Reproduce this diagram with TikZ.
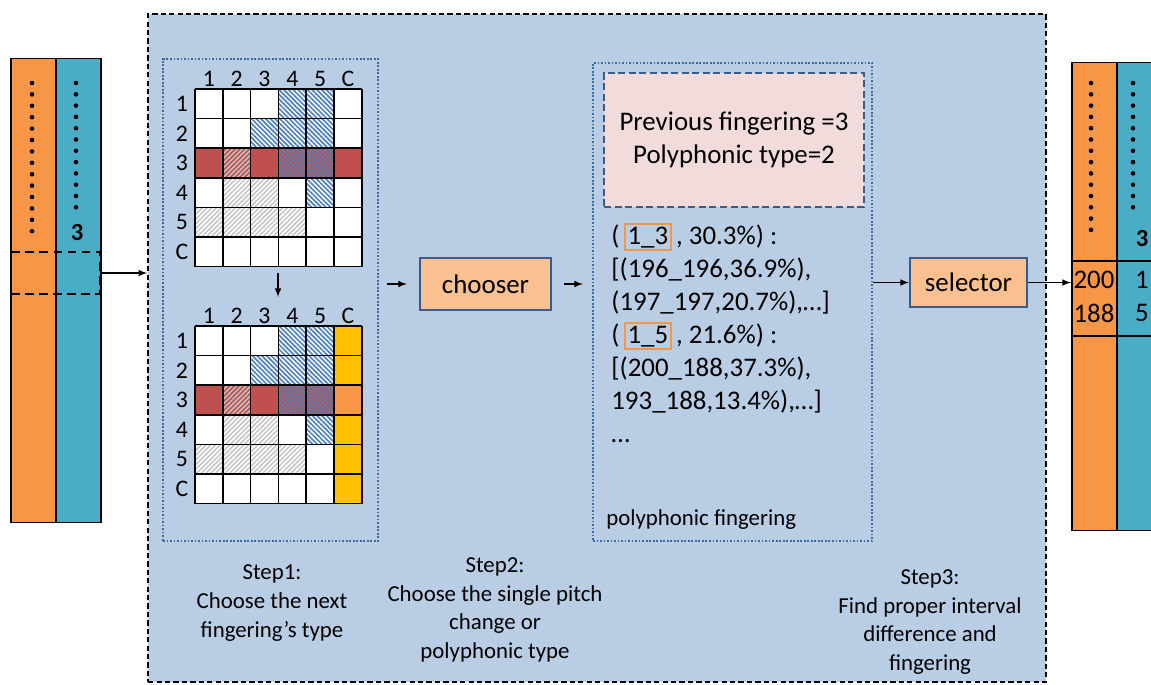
\documentclass[tikz,border=0pt]{standalone}
\usepackage{fontspec}
\setmainfont{Carlito}
\usetikzlibrary{arrows,calc,positioning,patterns.meta}

\definecolor{framefill}{HTML}{B9CDE5}
\definecolor{dotblue}{HTML}{3F6A9F}
\definecolor{boxblue}{HTML}{385D8A}
\definecolor{peach}{HTML}{FAC090}
\definecolor{notepink}{HTML}{F2DCDB}
\definecolor{colorange}{HTML}{F79646}
\definecolor{colteal}{HTML}{4BACC6}
\definecolor{rowred}{HTML}{C0504D}
\definecolor{chosen}{HTML}{FFC000}
\definecolor{hatchblue}{HTML}{4F81BD}
\definecolor{hatchgray}{HTML}{C4C4C4}

\newcommand{\pick}[1]{{\setlength{\fboxsep}{1pt}\setlength{\fboxrule}{1pt}\fcolorbox{colorange}{framefill}{#1}}}

\begin{document}
\begin{tikzpicture}[x=0.02cm, y=-0.02cm, >=latex,
  frame/.style={draw, fill=framefill, line width=1.1pt, dash pattern=on 3pt off 1.8pt},
  stepbox/.style={draw=dotblue, line width=1.2pt, dash pattern=on 1pt off 1pt},
  unit/.style={draw=boxblue, fill=peach, line width=1.2pt, font=\fontsize{15.3}{18}\selectfont},
  column/.style={draw, line width=0.6pt, minimum width=0.9cm, inner sep=0},
  numtext/.style={font=\fontsize{15.3}{18}\selectfont, inner sep=0},
  gridlabel/.style={font=\fontsize{13.5}{15}\selectfont, inner sep=0},
  steplabel/.style={align=center, font=\fontsize{13}{16.4}\selectfont, inner sep=0},
  bluehatch/.style={pattern={Lines[angle=-45,distance=1.9pt,line width=0.95pt]}, pattern color=hatchblue},
  grayhatch/.style={pattern={Lines[angle=45,distance=1.9pt,line width=0.85pt]}, pattern color=hatchgray},
  gridline/.style={line width=0.9pt},
  flow/.style={->, line width=0.7pt}]

  \clip (0,0) rectangle (1151,684);

  % main frame and its parts
  \node[frame, minimum width=17.96cm, minimum height=13.36cm] (frame) at (597,348) {};
  \node[stepbox, minimum width=4.3cm, minimum height=9.64cm] (step1box) at (270.5,300) {};
  \node[stepbox, minimum width=5.58cm, minimum height=9.56cm] (polybox) at (732.5,302) {};

  % fingering type tables, before and after
  \foreach \g/\dy in {A/0, B/237} {
    \begin{scope}[shift={(0,\dy)}]
      \fill[white] (195,89) rectangle (361.8,266.6);
      \fill[rowred] (195,148.2) rectangle (361.8,177.8);
      \ifnum\dy>0
        \fill[chosen] (334,89) rectangle (361.8,266.6);
        \fill[colorange] (334,148.2) rectangle (361.8,177.8);
      \fi
      \foreach \r/\c in {1/4,1/5,2/3,2/4,2/5,3/4,3/5,4/5}
        \fill[bluehatch] ({195+27.8*(\c-1)},{89+29.6*(\r-1)}) rectangle ++(27.8,29.6);
      \foreach \r/\c in {3/2,4/2,4/3,5/1,5/2,5/3,5/4}
        \fill[grayhatch] ({195+27.8*(\c-1)},{89+29.6*(\r-1)}) rectangle ++(27.8,29.6);
      \foreach \i in {0,...,6} {
        \draw[gridline] ({195+27.8*\i},89) -- ({195+27.8*\i},266.6);
        \draw[gridline] (195,{89+29.6*\i}) -- (361.8,{89+29.6*\i});
      }
      \foreach \t [count=\i] in {1,2,3,4,5,C} {
        \node[gridlabel] (\g-col\i) at ({195+27.8*(\i-0.5)},79) {\t};
        \node[gridlabel] (\g-row\i) at (182,{89+29.6*(\i-0.5)}) {\t};
      }
    \end{scope}
  }
  \coordinate (A-out) at (278,273);
  \coordinate (B-in) at (278,297);
  \draw[flow] (A-out) -- (B-in);

  % chooser and selector
  \node[unit, minimum width=2.62cm, minimum height=1.04cm] (chooser) at (485.5,284) {chooser};
  \node[unit, minimum width=2.34cm, minimum height=0.98cm] (selector) at (968.5,282.5) {selector};

  % polyphonic fingering table
  \node[draw=boxblue, fill=notepink, line width=1.2pt, dash pattern=on 4pt off 2pt,
        minimum width=5.2cm, minimum height=2.68cm, align=center,
        font=\fontsize{15.3}{18.7}\selectfont] (prev) at (734,140)
        {Previous fingering =3\\Polyphonic type=2};
  \foreach \t [count=\i] in {{(\,\pick{1\_3}\,, 30.3\%) :}, {[(196\_196,36.9\%),},
      {(197\_197,20.7\%),…]}, {(\,\pick{1\_5}\,, 21.6\%) :}, {[(200\_188,37.3\%),},
      {193\_188,13.4\%),…]}, {…}}
    \node[numtext, anchor=base west] (item\i) at (611,{244+33*(\i-1)}) {\t};
  \node[anchor=base west, inner sep=0, font=\fontsize{13}{15}\selectfont] (polylabel) at (606,525) {polyphonic fingering};

  % step captions
  \node[steplabel] (step1) at (272,603) {Step1:\\Choose the next\\fingering’s type};
  \node[steplabel] (step2) at (495,610) {Step2:\\Choose the single pitch\\change or\\polyphonic type};
  \node[steplabel] (step3) at (930,622) {Step3:\\Find proper interval\\difference and\\fingering};

  % input columns
  \node[column, fill=colorange, minimum height=9.3cm] (lnote) at (33.5,290.5) {};
  \node[column, fill=colteal, minimum height=9.3cm] (lfing) at (78.5,290.5) {};
  \foreach \k in {0,...,13} \fill (32,{83+11.4*\k}) circle (2.3);
  \foreach \k in {0,...,11} \fill (76,{83+11.3*\k}) circle (2.3);
  \node[numtext, font=\fontsize{14}{16}\selectfont\bfseries] (lthree) at (77,233) {3};
  \node[draw, line width=1.3pt, dash pattern=on 5pt off 3pt, minimum width=1.78cm, minimum height=0.84cm] (lsel) at (55.5,273) {};

  % output columns
  \node[column, fill=colorange, minimum height=9.38cm] (rnote) at (1094.5,296.5) {};
  \node[column, fill=colteal, minimum height=9.38cm] (rfing) at (1139.5,296.5) {};
  \foreach \k in {0,...,13} \fill (1091,{83+11.3*\k}) circle (2.3);
  \foreach \k in {0,...,11} \fill (1133,{83+11.3*\k}) circle (2.3);
  \node[numtext, font=\fontsize{14}{16}\selectfont\bfseries] (rthree) at (1142,239) {3};
  \node[draw, line width=1.3pt, minimum width=1.8cm, minimum height=1.5cm] (rsel) at (1117,298.5) {};
  \node[numtext] (n200) at (1094,280) {200};
  \node[numtext] (n188) at (1094,313) {188};
  \node[numtext] (f1) at (1142,280) {1};
  \node[numtext] (f5) at (1142,313) {5};

  % flow
  \draw[flow] (lsel.east) -- (lsel.east -| frame.west);
  \draw[flow, shorten <=0.16cm, shorten >=0.24cm] (step1box.east |- chooser.west) -- (chooser.west);
  \draw[flow, shorten <=0.24cm, shorten >=0.18cm] (chooser.east) -- (chooser.east -| polybox.west);
  \draw[flow] (polybox.east |- selector.west) -- (selector.west);
  \draw[flow] (selector.east) -- (selector.east -| rsel.west);

\end{tikzpicture}
\end{document}
